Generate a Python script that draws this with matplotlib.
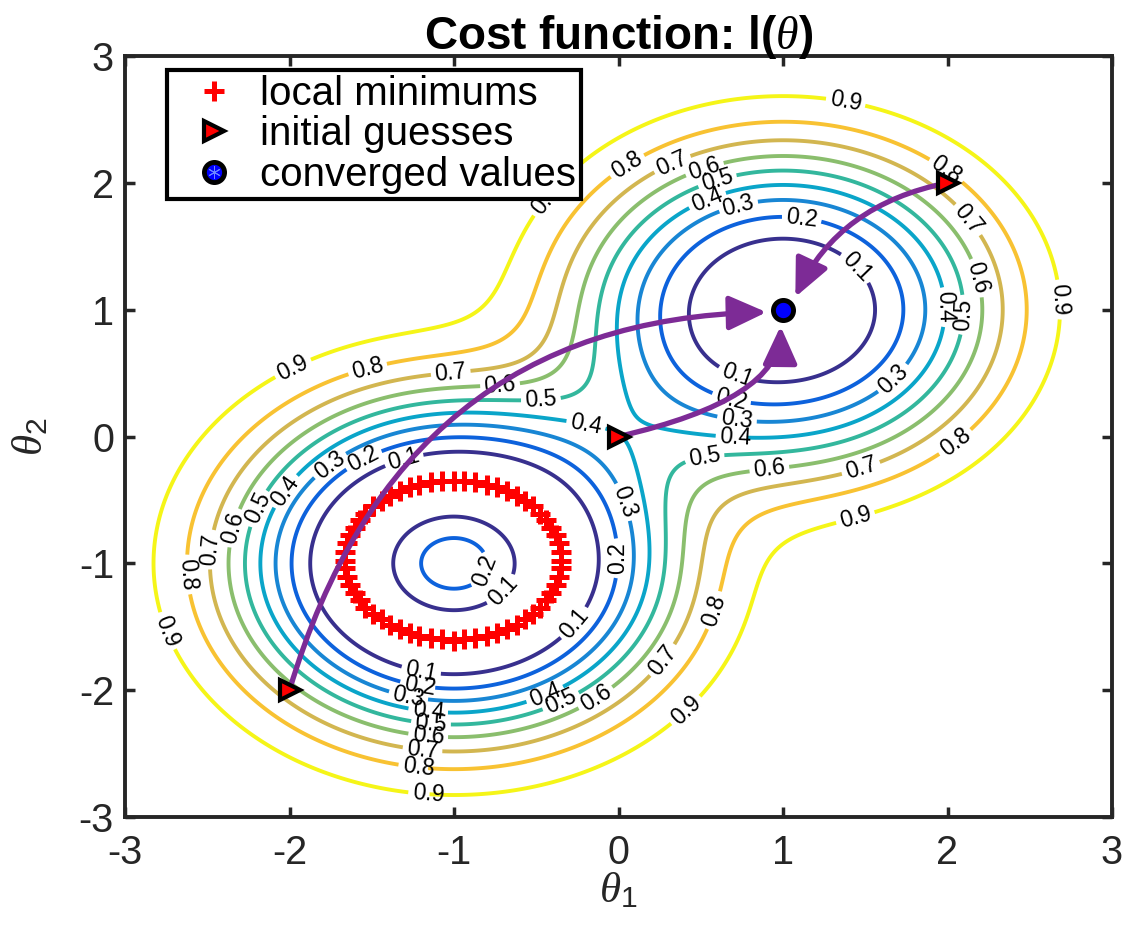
import numpy as np
import matplotlib
matplotlib.use("Agg")
import matplotlib.pyplot as plt
from matplotlib.path import Path
from matplotlib.patches import FancyArrowPatch, ArrowStyle
from matplotlib.lines import Line2D

plt.rcParams["font.family"] = ["Liberation Sans", "DejaVu Sans"]
plt.rcParams["mathtext.fontset"] = "custom"
plt.rcParams["mathtext.it"] = "Liberation Serif:italic"
plt.rcParams["mathtext.rm"] = "Liberation Sans"
plt.rcParams["mathtext.sf"] = "Liberation Sans"

# ---------------- data ----------------
levels = [0.1, 0.2, 0.3, 0.4, 0.5, 0.6, 0.7, 0.8, 0.9]
level_colors = ["#38308e", "#0d62dc", "#1886d4", "#0aa5c9", "#33b79d",
                "#8abe6d", "#d2b650", "#f8c232", "#f5f518"]
ticks = [-3, -2, -1, 0, 1, 2, 3]

# cost surface l(theta): bowl with global minimum at (1,1),
# ring-shaped valley of local minima around (-1,-1)
bowl_center = (1.0, 1.0)
bowl_scale, bowl_power = 1.25, 2.8
ring_center = (-1.0, -1.0)
ring_radius = 0.64
ring_peak, ring_inner_power = 0.253, 2.29
ring_scale, ring_power = 0.765, 1.9

# local minimums (red crosses on the ring)
local_min_x = [-0.35, -0.35, -0.36, -0.38, -0.41, -0.44, -0.48, -0.52, -0.57, -0.62,
               -0.68, -0.74, -0.80, -0.87, -0.94, -1.00, -1.07, -1.14, -1.21, -1.27,
               -1.33, -1.39, -1.44, -1.49, -1.54, -1.57, -1.60, -1.63, -1.65, -1.66,
               -1.66, -1.66, -1.65, -1.63, -1.60, -1.57, -1.54, -1.49, -1.44, -1.39,
               -1.33, -1.27, -1.21, -1.14, -1.07, -1.00, -0.94, -0.87, -0.80, -0.74,
               -0.68, -0.62, -0.57, -0.52, -0.48, -0.44, -0.41, -0.38, -0.36, -0.35]
local_min_y = [-0.98, -0.91, -0.84, -0.78, -0.72, -0.66, -0.61, -0.55, -0.51, -0.47,
               -0.43, -0.40, -0.38, -0.36, -0.35, -0.35, -0.35, -0.36, -0.38, -0.40,
               -0.43, -0.47, -0.51, -0.55, -0.61, -0.66, -0.72, -0.78, -0.84, -0.91,
               -0.98, -1.04, -1.11, -1.17, -1.23, -1.29, -1.35, -1.40, -1.44, -1.49,
               -1.52, -1.55, -1.57, -1.59, -1.60, -1.61, -1.60, -1.59, -1.57, -1.55,
               -1.52, -1.49, -1.44, -1.40, -1.35, -1.29, -1.23, -1.17, -1.11, -1.04]

guess_x = [-2.0, 0.0, 2.0]
guess_y = [-2.0, 0.0, 2.0]
converged_x = [1.0]
converged_y = [1.0]

# descent paths: start point, bend (control) point, arrow tip
path_start = [(-2.0, -2.0), (0.0, 0.0), (2.0, 2.0)]
path_bend = [(-1.33, 0.92), (0.98, 0.29), (1.34, 1.83)]
path_tip = [(0.90, 0.98), (0.985, 0.87), (1.075, 1.10)]

legend_labels = ["local minimums", "initial guesses", "converged values"]

# ---------------- surface ----------------
g = np.linspace(-3, 3, 701)
X, Y = np.meshgrid(g, g)
r1 = np.hypot(X - bowl_center[0], Y - bowl_center[1])
bowl = np.exp(-(r1 / bowl_scale) ** bowl_power)
r2 = np.hypot(X - ring_center[0], Y - ring_center[1])
inner = ring_peak * np.clip(1 - (r2 / ring_radius) ** 2, 0, None) ** ring_inner_power
outer = 1 - np.exp(-(np.clip(r2 - ring_radius, 0, None) / ring_scale) ** ring_power)
ring = np.where(r2 < ring_radius, inner, outer)
Z = ring - bowl

# ---------------- figure ----------------
W, H = 1127, 939
fig = plt.figure(figsize=(W / 100, H / 100), dpi=100)
ax = fig.add_axes([125 / W, 1 - 817 / H, 987 / W, 761 / H])
ax.set_xlim(-3, 3)
ax.set_ylim(-3, 3)

cs = ax.contour(X, Y, Z, levels=levels, colors=level_colors, linewidths=2.8)

# approximate label spots, per contour level
label_spots = {
    0.1: [(1.47, 1.37), (0.71, 0.46), (-1.31, -0.17), (-0.72, -1.20), (-0.25, -1.49), (-1.20, -1.86)],
    0.2: [(1.12, 1.75), (0.69, 0.30), (-1.56, -0.15), (-0.87, -1.03), (0.01, -0.96), (-1.21, -1.98)],
    0.3: [(0.72, 1.85), (0.72, 0.13), (1.67, 0.45), (-1.76, -0.21), (0.02, -0.52), (-1.28, -2.06)],
    0.4: [(0.57, 1.76), (1.97, 1.02), (0.71, 0.01), (-0.21, 0.01), (-2.04, -0.42), (-1.16, -2.17), (-0.46, -1.98)],
    0.5: [(0.59, 2.05), (2.09, 0.96), (0.52, -0.13), (-0.47, 0.27), (-2.21, -0.56), (-1.14, -2.28), (-0.36, -2.06)],
    0.6: [(0.51, 2.18), (2.18, 1.25), (0.92, -0.26), (-0.72, 0.42), (-2.33, -0.72), (-1.16, -2.38), (-0.14, -2.05)],
    0.7: [(0.31, 2.20), (2.14, 1.73), (1.48, -0.26), (-1.02, 0.52), (-2.50, -0.89), (-1.19, -2.49), (0.18, -1.67)],
    0.8: [(0.04, 2.16), (1.99, 2.10), (2.11, -0.15), (-1.50, 0.41), (-2.62, -1.09), (-1.22, -2.61), (0.59, -1.37)],
    0.9: [(1.39, 2.68), (2.73, 1.08), (1.45, -0.68), (-1.98, 0.55), (-2.75, -1.54), (-1.16, -2.83), (0.60, -2.43), (-0.45, 1.88)],
}
# snap each spot onto its own level's line, then let clabel place them
px_x, px_y = 164.5, 126.8
snapped = []
for i, lev in enumerate(cs.levels):
    verts = cs.get_paths()[i].vertices
    for sx, sy in label_spots[round(float(lev), 1)]:
        d = ((verts[:, 0] - sx) * px_x) ** 2 + ((verts[:, 1] - sy) * px_y) ** 2
        k = int(np.argmin(d))
        snapped.append((verts[k, 0], verts[k, 1]))
ax.clabel(cs, cs.levels, inline=True, fontsize=16.5, fmt="%.1f", colors="k",
          manual=snapped, inline_spacing=4)

h_min, = ax.plot(local_min_x, local_min_y, ls="none", marker="+", ms=15, mew=3.6,
                 color="red", zorder=3)

purple = "#7d2b96"
for p0, pc, p1 in zip(path_start, path_bend, path_tip):
    pth = Path([p0, pc, p1], [Path.MOVETO, Path.CURVE3, Path.CURVE3])
    arr = FancyArrowPatch(path=pth,
                          arrowstyle=ArrowStyle("-|>", head_length=23, head_width=10.5),
                          mutation_scale=1, color=purple, lw=3.8, zorder=4)
    ax.add_patch(arr)

h_guess, = ax.plot(guess_x, guess_y, ls="none", marker=">", ms=15, mew=3,
                   mfc="red", mec="k", zorder=5)
h_conv, = ax.plot(converged_x, converged_y, ls="none", marker="o", ms=14.5, mew=3.5,
                  mfc="blue", mec="k", zorder=5)
h_star = Line2D([], [], ls="none", marker=(6, 2, 0), ms=9, mew=0.7, color="#6f88ff")

axis_col = "#262626"
ax.set_xticks(ticks)
ax.set_yticks(ticks)
ax.set_xticklabels([str(t) for t in ticks])
ax.set_yticklabels([str(t) for t in ticks])
ax.tick_params(direction="in", length=7.5, width=2.5, top=True, right=True,
               labelsize=28.5, colors=axis_col)
ax.tick_params(axis="x", pad=12)
ax.tick_params(axis="y", pad=8)
for s in ax.spines.values():
    s.set_linewidth(2.8)
    s.set_color(axis_col)

ax.set_xlabel(r"$\theta_{\mathrm{1}}$", fontsize=31, color=axis_col, labelpad=0)
ax.set_ylabel(r"$\theta_{\mathrm{2}}$", fontsize=31, color=axis_col, labelpad=20)
ax.set_title(r"Cost function: l($\theta$)", fontsize=33, fontweight="bold", pad=5)

leg = ax.legend([h_min, h_guess, (h_conv, h_star)], legend_labels, loc="upper left",
                bbox_to_anchor=(0.0426, 0.9816), borderaxespad=0, fontsize=29,
                frameon=True, fancybox=False, edgecolor="k", framealpha=1,
                labelspacing=0.06, handlelength=2.1, handletextpad=0.1,
                borderpad=0.12)
leg.get_frame().set_linewidth(3)
leg.set_zorder(10)

fig.savefig("out.png", dpi=100)
